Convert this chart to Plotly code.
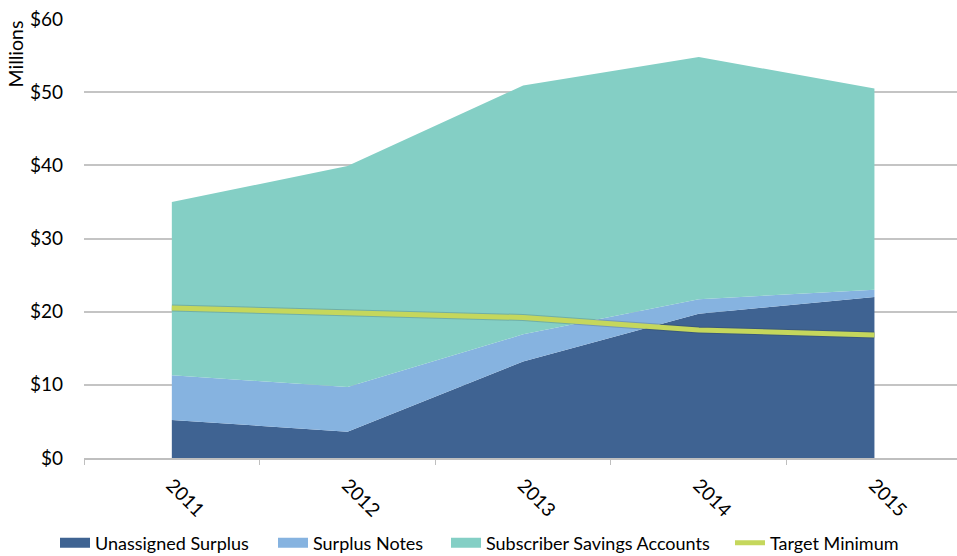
import plotly.graph_objects as go

years = ["2011", "2012", "2013", "2014", "2015"]
unassigned_surplus = [5.2, 3.6, 13.2, 19.7, 22.0]
surplus_notes = [6.1, 6.1, 3.7, 2.0, 1.0]
subscriber_savings = [23.7, 30.2, 34.0, 33.1, 27.5]
target_minimum = [20.5, 19.8, 19.2, 17.5, 16.8]
y_ticks = [0, 10, 20, 30, 40, 50, 60]
y_tick_labels = ["$0", "$10", "$20", "$30", "$40", "$50", "$60"]

series_names = ["Unassigned Surplus", "Surplus Notes", "Subscriber Savings Accounts", "Target Minimum"]
colors = ["#3f6392", "#86b3e0", "#84cfc5", "#c5d75c"]

FONT = "Lato, 'Noto Sans', Arial, sans-serif"

W, H = 957, 556
L, R, T, B = 84, 0, 19, 98
PW = W - L - R
PH = H - T - B

def px_x(px):
    return (px - L) / PW

def px_y(py):
    return (H - B - py) / PH

fig = go.Figure()
area_values = [unassigned_surplus, surplus_notes, subscriber_savings]
legend_ids = ["legend", "legend2", "legend3", "legend4"]
for i, vals in enumerate(area_values):
    fig.add_trace(go.Scatter(x=years, y=vals, name=series_names[i], stackgroup="one",
                             mode="none", fillcolor=colors[i], showlegend=False))
# soft shadow under the target line
fig.add_trace(go.Scatter(x=years, y=target_minimum, mode="lines", showlegend=False,
                         hoverinfo="skip",
                         line=dict(color="rgba(40,50,40,0.2)", width=7)))
fig.add_trace(go.Scatter(x=years, y=target_minimum, name=series_names[3],
                         mode="lines", line=dict(color=colors[3], width=5),
                         legend="legend4"))
# legend swatches for the area series
for i in range(3):
    fig.add_trace(go.Scatter(x=[None], y=[None], name=series_names[i], mode="lines",
                             line=dict(color=colors[i], width=13),
                             legend=legend_ids[i]))

swatch_starts = [60, 278, 451, 735]
leg_y = px_y(543)
legend_common = dict(orientation="h", yanchor="middle", y=leg_y, xanchor="left",
                     font=dict(size=18, family=FONT), bgcolor="rgba(0,0,0,0)",
                     borderwidth=0)
layout_legends = {}
for lid, sx in zip(legend_ids, swatch_starts):
    layout_legends[lid] = dict(x=px_x(sx - 5), **legend_common)

fig.update_layout(
    width=W, height=H,
    margin=dict(l=L, r=R, t=T, b=B, autoexpand=False),
    paper_bgcolor="white", plot_bgcolor="white",
    font=dict(family=FONT, size=16, color="#000000"),
    showlegend=True,
    annotations=[dict(text="Millions", textangle=-90, x=px_x(15), xref="paper",
                      y=px_y(19), yref="paper", showarrow=False,
                      font=dict(size=19.5), xanchor="center", yanchor="top")],
    **layout_legends,
)
fig.update_xaxes(
    type="category", range=[-0.5, 4.47], tickangle=45, tickson="boundaries",
    ticks="outside", ticklen=5, tickcolor="#bfbfbf", showline=True,
    linecolor="#bfbfbf", linewidth=1.5, showgrid=False, tickfont=dict(size=19),
    ticklabelstandoff=7, automargin=False,
)
fig.update_yaxes(
    range=[0, 60], tickvals=y_ticks, ticktext=y_tick_labels, showgrid=True,
    gridcolor="#c4c4c4", gridwidth=2, zeroline=False, showline=False,
    tickfont=dict(size=19), ticks="", ticklabelstandoff=20, automargin=False,
)
fig.write_html("out.html")
